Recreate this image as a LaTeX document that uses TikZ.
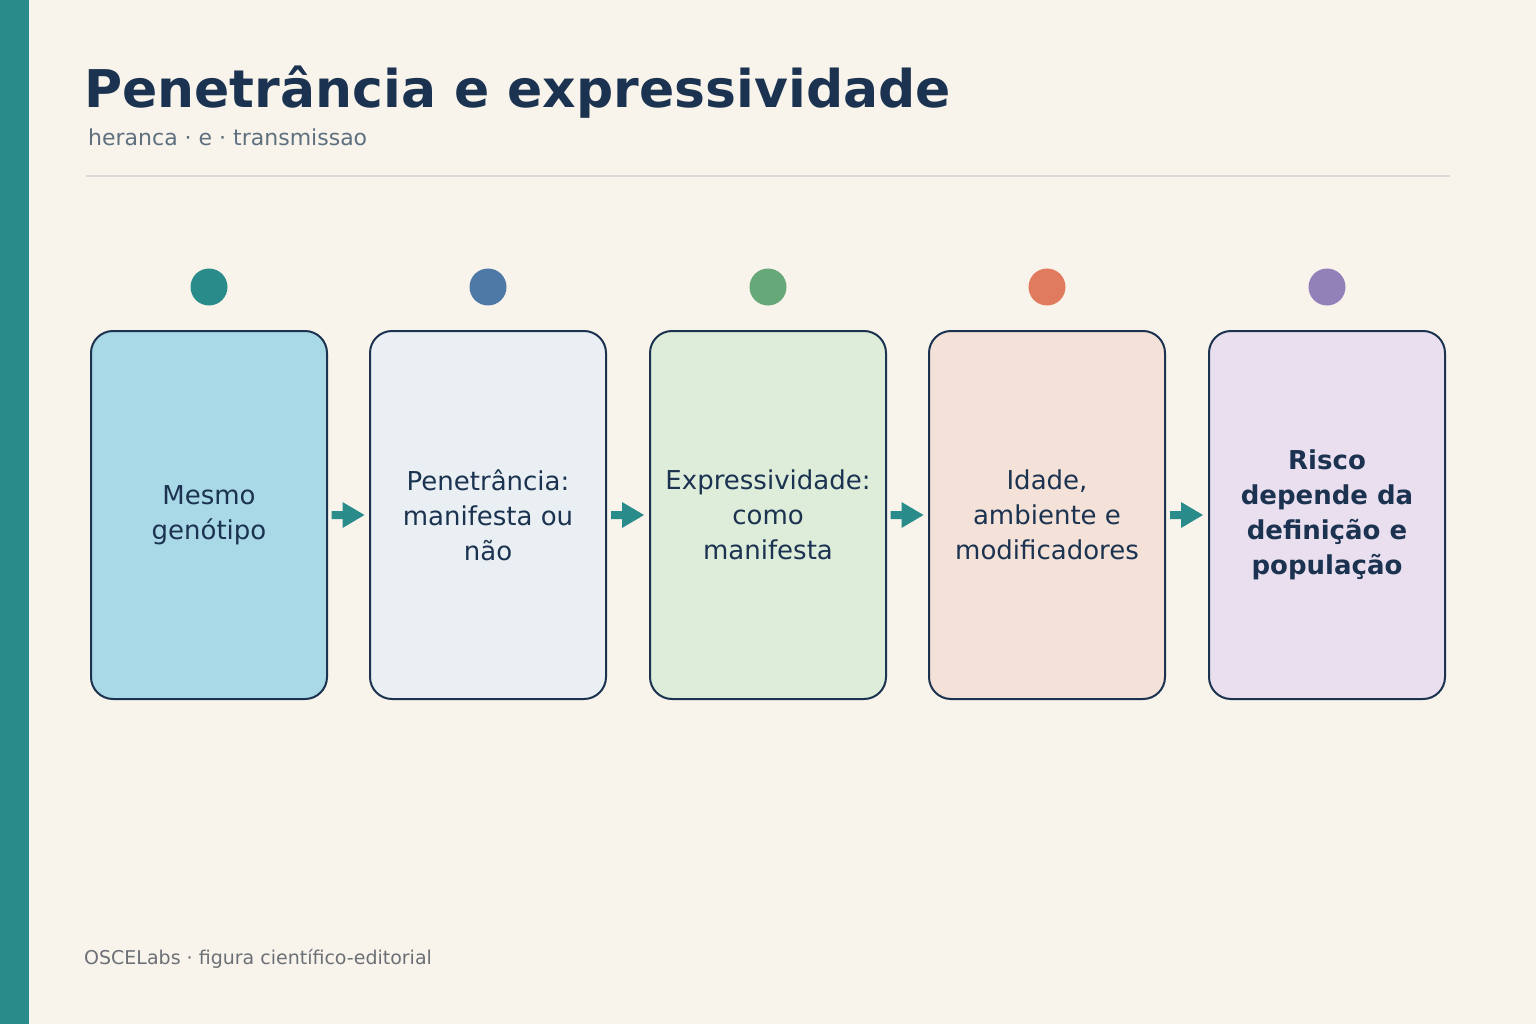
\documentclass[tikz,border=0pt]{standalone}
\usepackage{fontspec}
\setmainfont{DejaVu Sans}
\begin{document}
\begin{tikzpicture}[x=1pt,y=-1pt,
 box/.style={draw=navy,line width=2pt,rounded corners=22pt,minimum width=236pt,minimum height=368pt,inner sep=0pt,text width=230pt,align=center,font=\fontsize{26}{35}\selectfont,text=navy},
 dot/.style={circle,minimum size=37pt,inner sep=0pt},
 arr/.style={fill=teal0}]
\definecolor{navy}{HTML}{1B3350}
\definecolor{teal0}{HTML}{2A8C8A}
\definecolor{bg}{HTML}{F8F4EC}
\definecolor{gr}{HTML}{5E7080}
\useasboundingbox (0,0) rectangle (1536,1024);
\fill[bg] (0,0) rectangle (1536,1024);
\fill[teal0] (0,0) rectangle (29,1024);
\node[anchor=base west,font=\fontsize{52}{60}\bfseries\selectfont,text=navy,inner sep=0pt] (title) at (84,108) {Penetrância e expressividade};
\node[anchor=base west,font=\fontsize{22}{26}\selectfont,text=gr,inner sep=0pt] (sub) at (88,146) {heranca · e · transmissao};
\draw[line width=2pt,draw=gray!30] (86,176) -- (1450,176);
\node[anchor=base west,font=\fontsize{19}{22}\selectfont,text=gray!80!navy,inner sep=0pt] (foot) at (84,964) {OSCELabs · figura científico-editorial};
\foreach \i/\x/\c/\f in {1/209/2A8C8A/A9D8E6,2/488/4E79A7/EAEFF3,3/768/66A877/DDEDDA,4/1047/E07B5F/F4E1D8,5/1327/9181B8/E9DFEE}{
 \definecolor{c\i}{HTML}{\c}\definecolor{f\i}{HTML}{\f}
 \node[dot,fill=c\i] (d\i) at (\x,287) {};
 \node[box,fill=f\i] (b\i) at (\x,515) {};
}
\node[font=\fontsize{26}{35}\selectfont,text=navy,align=center] at (b1) {Mesmo\\genótipo};
\node[font=\fontsize{26}{35}\selectfont,text=navy,align=center] at (b2) {Penetrância:\\manifesta ou\\não};
\node[font=\fontsize{26}{35}\selectfont,text=navy,align=center] at (b3) {Expressividade:\\como\\manifesta};
\node[font=\fontsize{26}{35}\selectfont,text=navy,align=center] at (b4) {Idade,\\ambiente e\\modificadores};
\node[font=\fontsize{26}{35}\bfseries\selectfont,text=navy,align=center] at (b5) {Risco\\depende da\\definição e\\população};
\foreach \a/\b in {1/2,2/3,3/4,4/5}{
 \path (b\a.east) -- (b\b.west) coordinate[pos=0.5] (m\a);
 \fill[teal0] ([xshift=-17pt,yshift=-4pt]m\a) rectangle ([xshift=-6pt,yshift=4pt]m\a)
   ([xshift=-6pt,yshift=-13pt]m\a) -- ([xshift=16pt]m\a) -- ([xshift=-6pt,yshift=13pt]m\a) -- cycle;
}
\end{tikzpicture}
\end{document}
